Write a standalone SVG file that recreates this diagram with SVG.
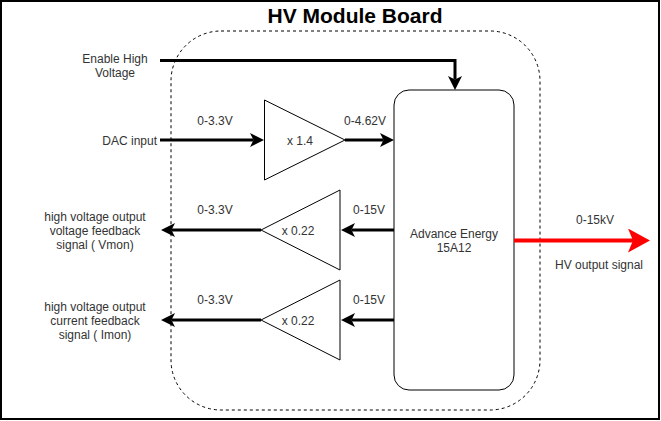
<svg xmlns="http://www.w3.org/2000/svg" width="661" height="421" viewBox="0 0 661 421">
<style>
text{font-family:"Liberation Sans",Arial,sans-serif;font-size:12px;fill:#333333}
.c{text-anchor:middle}
.shape{fill:#ffffff;stroke:#000000;stroke-width:1}
.wire{fill:none;stroke:#000000;stroke-width:3}
.red{fill:none;stroke:#ff0000;stroke-width:4}
</style>
<defs>
<marker id="ah" markerUnits="userSpaceOnUse" viewBox="0 0 14 14" refX="3.5" refY="7" markerWidth="14" markerHeight="14" orient="auto">
<path d="M0,0 L14,7 L0,14 L3.5,7 Z" fill="#000000"/>
</marker>
<marker id="ahr" markerUnits="userSpaceOnUse" viewBox="0 0 22 24" refX="5" refY="12" markerWidth="22" markerHeight="24" orient="auto">
<path d="M0,0 L22,12 L0,24 L5,12 Z" fill="#ff0000"/>
</marker>
</defs>
<rect x="1" y="1" width="658" height="418" fill="#ffffff" stroke="#000000" stroke-width="2"/>
<g id="board">
<rect x="171" y="31" width="369" height="379" rx="50" ry="50" fill="none" stroke="#000000" stroke-width="1" stroke-dasharray="3,3"/>
<text x="355" y="23" class="c" style="font-size:21px;font-weight:bold;fill:#000000">HV Module Board</text>
</g>
<g id="hv-supply">
<rect x="394" y="90" width="120" height="300" rx="15" ry="15" class="shape"/>
<text x="454" y="237.5" class="c">Advance Energy</text>
<text x="454" y="252" class="c">15A12</text>
</g>
<g id="amp-dac">
<path d="M264.5,100 L345,140 L264.5,180 Z" class="shape"/>
<text x="300" y="144.5" class="c">x 1.4</text>
</g>
<g id="amp-vmon">
<path d="M340,190 L261,230 L340,270 Z" class="shape"/>
<text x="298" y="234.5" class="c">x 0.22</text>
</g>
<g id="amp-imon">
<path d="M340,280 L261,320 L340,360 Z" class="shape"/>
<text x="298" y="324.5" class="c">x 0.22</text>
</g>
<g id="enable-label">
<text x="115" y="62.5" class="c">Enable High</text>
<text x="115" y="77" class="c">Voltage</text>
</g>
<g id="dac-label">
<text x="157" y="144.5" style="text-anchor:end">DAC input</text>
</g>
<g id="vmon-label">
<text x="95" y="220.5" class="c">high voltage output</text>
<text x="95" y="234.5" class="c">voltage feedback</text>
<text x="95" y="248.5" class="c">signal ( Vmon)</text>
</g>
<g id="imon-label">
<text x="95" y="310.5" class="c">high voltage output</text>
<text x="95" y="324.5" class="c">current feedback</text>
<text x="95" y="338.5" class="c">signal ( Imon)</text>
</g>
<g id="hv-out-label">
<text x="595" y="223.5" class="c">0-15kV</text>
<text x="599" y="269" class="c">HV output signal</text>
</g>
<g id="connectors">
<path d="M160,60.5 L455,60.5 L455,79.5" class="wire" marker-end="url(#ah)"/>
<path d="M160,140 L253.5,140" class="wire" marker-end="url(#ah)"/>
<path d="M345,140 L383.5,140" class="wire" marker-end="url(#ah)"/>
<path d="M394,230 L351.5,230" class="wire" marker-end="url(#ah)"/>
<path d="M394,320 L351.5,320" class="wire" marker-end="url(#ah)"/>
<path d="M261,230 L171.5,230" class="wire" marker-end="url(#ah)"/>
<path d="M261,320 L171.5,320" class="wire" marker-end="url(#ah)"/>
<path d="M514,240.5 L633,240.5" class="red" marker-end="url(#ahr)"/>
<text x="215" y="124.5" class="c">0-3.3V</text>
<text x="365" y="124.5" class="c">0-4.62V</text>
<text x="215" y="214" class="c">0-3.3V</text>
<text x="369" y="214" class="c">0-15V</text>
<text x="215" y="303.5" class="c">0-3.3V</text>
<text x="369" y="303.5" class="c">0-15V</text>
</g>
</svg>
